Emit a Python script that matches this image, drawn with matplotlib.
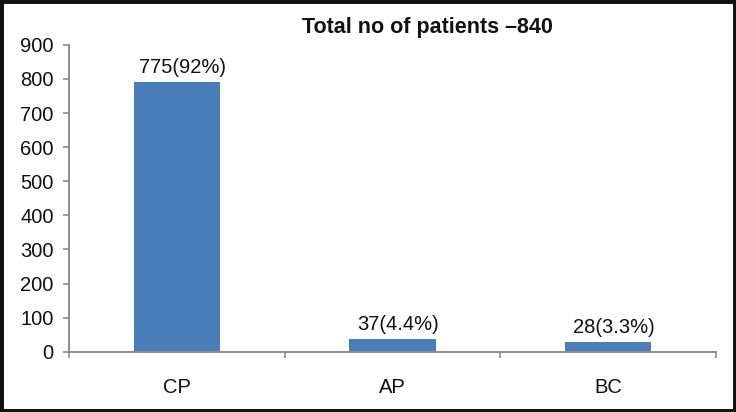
import matplotlib.pyplot as plt
from matplotlib.patches import Rectangle

# bar heights, labels as printed on the chart
categories = ['CP', 'AP', 'BC']
heights = [790, 37, 28]
bar_labels = ['775(92%)', '37(4.4%)', '28(3.3%)']
title = 'Total no of patients \u2013840'
yticks = [0, 100, 200, 300, 400, 500, 600, 700, 800, 900]

plt.rcParams['font.family'] = ['Liberation Sans', 'DejaVu Sans']

fig = plt.figure(figsize=(7.36, 4.12), dpi=100)
ax = fig.add_axes([0.0938, 0.1464, 0.8792, 0.7446])

x = list(range(len(categories)))
bars = ax.bar(x, heights, width=0.4, color='#4a7ebb', zorder=2)

for b, lab in zip(bars, bar_labels):
    ax.annotate(lab, (b.get_x() + b.get_width() / 2, b.get_height()),
                textcoords='offset points', xytext=(4, 4),
                ha='center', va='bottom', fontsize=14.5, color='#111111')

ax.set_xlim(-0.5, len(categories) - 0.5)
ax.set_ylim(0, 900)
ax.set_yticks(yticks)
ax.set_xticks(x)
ax.set_xticklabels(categories)
ax.set_xticks([i - 0.5 for i in range(len(categories) + 1)], minor=True)

ax.tick_params(axis='y', length=4.5, width=1.2, color='#8c8c8c', pad=6.5,
               labelsize=14.5, labelcolor='#111111')
ax.tick_params(axis='x', which='major', length=0, pad=19,
               labelsize=14.5, labelcolor='#111111')
ax.tick_params(axis='x', which='minor', length=4.5, width=1.2, color='#8c8c8c')

for s in ['top', 'right']:
    ax.spines[s].set_visible(False)
for s in ['left', 'bottom']:
    ax.spines[s].set_color('#8c8c8c')
    ax.spines[s].set_linewidth(1.4)

fig.text(427 / 736, 1 - 27 / 412, title, ha='center', va='center',
         fontsize=15.5, fontweight='bold', color='#111111')

# dark frame round the whole picture
fig.patches.append(Rectangle((0, 0), 1, 1, transform=fig.transFigure,
                             fill=False, edgecolor='#111111', linewidth=5))

fig.savefig('out.png', dpi=100)
